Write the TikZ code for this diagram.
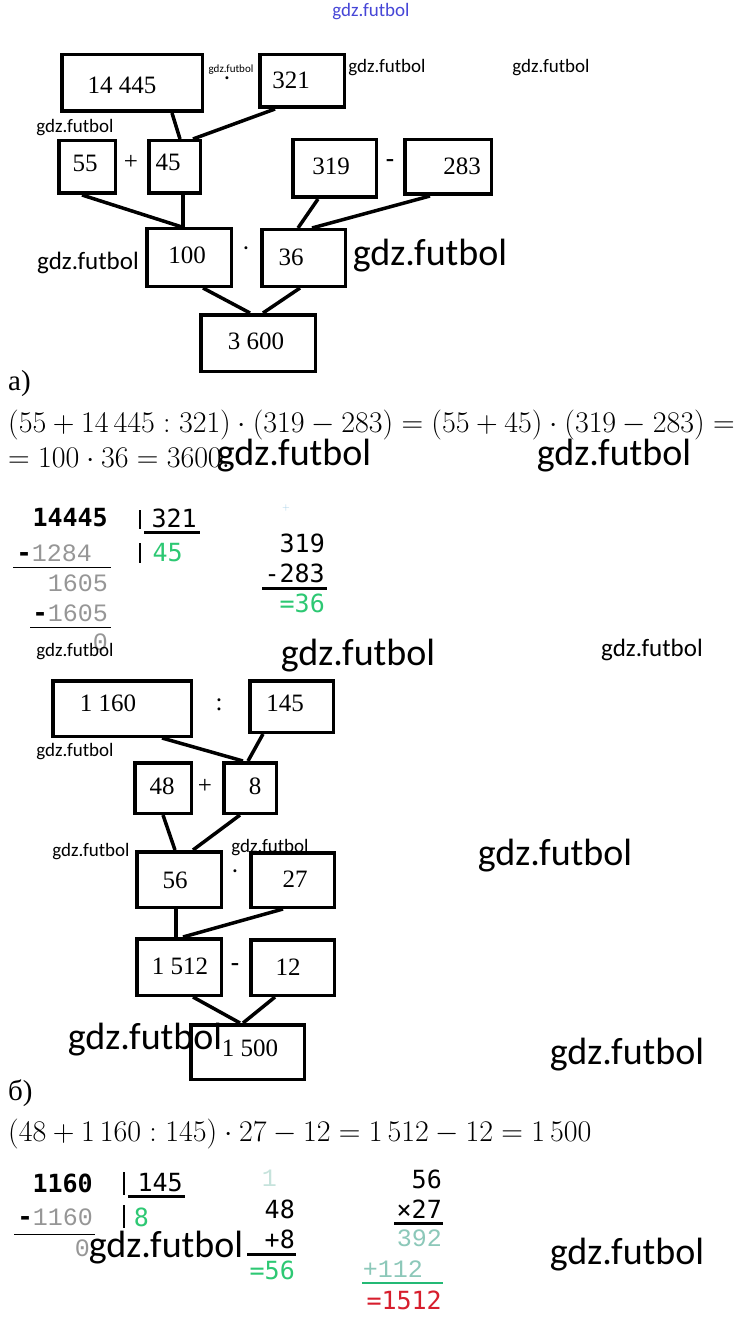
\RequirePackage{fix-cm}
\documentclass[tikz,border=0pt]{standalone}
\usepackage{fontspec}
\newfontfamily\wmf{Carlito}
\newfontfamily\serf{Liberation Serif}
\newfontfamily\monob{DejaVu Sans Mono}
\newfontfamily\monol{Liberation Mono}
\definecolor{grn}{RGB}{45,200,115}
\definecolor{redc}{RGB}{215,30,45}
\definecolor{gry}{RGB}{150,150,150}
\definecolor{tealc}{RGB}{140,200,185}
\definecolor{ltblue}{RGB}{160,205,230}
\definecolor{wmblue}{RGB}{70,70,215}
\tikzset{
  box/.style={draw=black, line width=3.5pt, rectangle, inner sep=0pt},
  conn/.style={line width=3.5pt},
  num/.style={font=\serf\fontsize{25}{30}\selectfont, inner sep=0pt},
  opr/.style={font=\serf\fontsize{25}{30}\selectfont, inner sep=0pt},
  wmS/.style={font=\wmf\fontsize{19}{23}\selectfont, inner sep=0pt},
  wmM/.style={font=\wmf\fontsize{25}{30}\selectfont, inner sep=0pt},
  wmL/.style={font=\wmf\fontsize{38}{45}\selectfont, inner sep=0pt},
  wmT/.style={font=\wmf\fontsize{11}{13}\selectfont, inner sep=0pt},
  eqn/.style={font=\fontsize{30}{36}\selectfont, inner sep=0pt, anchor=west},
  mb/.style={font=\monob\fontsize{25}{30}\selectfont, inner sep=0pt, anchor=east},
  mbb/.style={font=\monob\bfseries\fontsize{25}{30}\selectfont, inner sep=0pt, anchor=east},
  ml/.style={font=\monol\fontsize{25}{30}\selectfont, inner sep=0pt, anchor=east, text=gry},
  rule/.style={line width=3pt},
  thin/.style={line width=1pt},
  bar/.style={line width=2pt}
}
\begin{document}
\begin{tikzpicture}[x=1pt,y=-1pt]
\useasboundingbox[fill=white] (0,0) rectangle (742,1324);

% ---------- diagram a ----------
\node[box, minimum width=140.5pt, minimum height=56.5pt] (b14445) at (132,83) {};
\node[box, minimum width=84.5pt, minimum height=52.5pt] (b321) at (302,81) {};
\node[box, minimum width=56.5pt, minimum height=52.5pt] (b55) at (87,167) {};
\node[box, minimum width=51.5pt, minimum height=52.5pt] (b45) at (174.5,167) {};
\node[box, minimum width=83.5pt, minimum height=57.5pt] (b319) at (334.5,168.5) {};
\node[box, minimum width=86.5pt, minimum height=54.5pt] (b283) at (448,167) {};
\node[box, minimum width=84.5pt, minimum height=57.5pt] (b100) at (189,257.5) {};
\node[box, minimum width=83.5pt, minimum height=56.5pt] (b36) at (303.5,258) {};
\node[box, minimum width=114.5pt, minimum height=56.5pt] (b3600) at (258,343) {};

\node[num] (t14445) at (122,85) {14 445};
\node[num] (t321) at (291,80) {321};
\node[num] (t55) at (85,163) {55};
\node[num] (t45) at (168,162) {45};
\node[num] (t319) at (331,166) {319};
\node[num] (t283) at (462,166) {283};
\node[num] (t100) at (187,255) {100};
\node[num] (t36) at (291,257) {36};
\node[num] (t3600) at (256,341) {3 600};

\node[opr] (oa1) at (227,82) {·};
\node[opr] (oa2) at (131,162) {+};
\node[opr, font=\serf\bfseries\fontsize{25}{30}\selectfont] (oa3) at (390,163) {-};
\node[opr] (oa4) at (246,252) {·};

\draw[conn] ([xshift=40pt]b14445.south) -- ([xshift=5.5pt]b45.north);
\draw[conn] ([xshift=-27pt]b321.south) -- ([xshift=18.5pt]b45.north);
\draw[conn] ([xshift=-5pt]b55.south) -- ([xshift=-7pt]b100.north);
\draw[conn] ([xshift=8.5pt]b45.south) -- ([xshift=-6pt]b100.north);
\draw[conn] ([xshift=-16.5pt]b319.south) -- ([xshift=-5.5pt]b36.north);
\draw[conn] ([xshift=-18pt]b283.south) -- ([xshift=8.5pt]b36.north);
\draw[conn] ([xshift=14pt]b100.south) -- ([xshift=-8pt]b3600.north);
\draw[conn] ([xshift=-3.5pt]b36.south) -- ([xshift=5pt]b3600.north);

% ---------- equation a ----------
\node[eqn, font=\serf\fontsize{29}{34}\selectfont] (la) at (8,384) {а)};
\node[eqn] (eqa1) at (8,425) {$(55+14\,445:321)\cdot(319-283)=(55+45)\cdot(319-283)={}$};
\node[eqn] (eqa2) at (8,458) {$=100\cdot 36=3600.$};

% ---------- column work a ----------
\node[mbb] (c1) at (108,518) {14445};
\coordinate (v1a) at (140,510); \coordinate (v1b) at (140,529);
\coordinate (v2a) at (140,543); \coordinate (v2b) at (140,563);
\draw[bar] (v1a) -- (v1b);
\draw[bar] (v2a) -- (v2b);
\node[mb] (c2) at (197,518) {321};
\coordinate (u1a) at (144,532); \coordinate (u1b) at (200,532);
\draw[rule] (u1a) -- (u1b);
\node[mb, text=grn] (c3) at (183,553) {45};
\node[ml] (c4) at (92,553) {\monob\bfseries\textcolor{black}{-}\monol\mdseries 1284};
\coordinate (l1a) at (13,567); \coordinate (l1b) at (111,567);
\draw[thin] (l1a) -- (l1b);
\node[ml] (c5) at (108,583) {1605};
\node[ml] (c6) at (108,613) {\monob\bfseries\textcolor{black}{-}\monol\mdseries 1605};
\coordinate (l2a) at (30,627); \coordinate (l2b) at (111,627);
\draw[thin] (l2a) -- (l2b);
\node[ml] (c7) at (108,642) {0};

\node[font=\sffamily\fontsize{10}{12}\selectfont, text=ltblue, inner sep=0pt] (c8) at (286,508) {+};
\node[mb] (c9) at (325,543) {319};
\node[mb] (c10) at (325,573) {-283};
\coordinate (l3a) at (262,588); \coordinate (l3b) at (327,588);
\draw[rule] (l3a) -- (l3b);
\node[mb, text=grn] (c11) at (325,603) {=36};

% ---------- diagram b ----------
\node[box, minimum width=138.5pt, minimum height=55.5pt] (b1160) at (122,708.5) {};
\node[box, minimum width=83.5pt, minimum height=51.5pt] (b145) at (291.5,706.5) {};
\node[box, minimum width=56.5pt, minimum height=50.5pt] (b48) at (163,788) {};
\node[box, minimum width=52.5pt, minimum height=50.5pt] (b8) at (250,788) {};
\node[box, minimum width=84.5pt, minimum height=55.5pt] (b56) at (179,879.5) {};
\node[box, minimum width=83.5pt, minimum height=54.5pt] (b27) at (292.5,880) {};
\node[box, minimum width=84.5pt, minimum height=56.5pt] (b1512) at (179,967) {};
\node[box, minimum width=83.5pt, minimum height=55.5pt] (b12) at (292.5,967.5) {};
\node[box, minimum width=113.5pt, minimum height=54.5pt] (b1500) at (247.5,1052) {};

\node[num] (t1160) at (108,703) {1 160};
\node[num] (t145) at (285,703) {145};
\node[num] (t48) at (162,786) {48};
\node[num] (t8) at (255,786) {8};
\node[num] (t56) at (175,880) {56};
\node[num] (t27) at (295,879) {27};
\node[num] (t1512) at (180,966) {1 512};
\node[num] (t12) at (288,967) {12};
\node[num] (t1500) at (250,1048) {1 500};

\node[opr] (ob1) at (219,705) {:};
\node[opr] (ob2) at (205,786) {+};
\node[opr] (ob3) at (235,875) {·};
\node[opr, font=\serf\bfseries\fontsize{25}{30}\selectfont] (ob4) at (235,967) {-};

\draw[conn] ([xshift=40pt]b1160.south) -- ([xshift=-7pt]b8.north);
\draw[conn] ([xshift=-28.5pt]b145.south) -- ([xshift=-2pt]b8.north);
\draw[conn] ([xshift=0pt]b48.south) -- ([xshift=-4pt]b56.north);
\draw[conn] ([xshift=-10pt]b8.south) -- ([xshift=14pt]b56.north);
\draw[conn] ([xshift=-3pt]b56.south) -- ([xshift=-3pt]b1512.north);
\draw[conn] ([xshift=-9.5pt]b27.south) -- ([xshift=4pt]b1512.north);
\draw[conn] ([xshift=14pt]b1512.south) -- ([xshift=-7.5pt]b1500.north);
\draw[conn] ([xshift=-17.5pt]b12.south) -- ([xshift=-4.5pt]b1500.north);

% ---------- equation b ----------
\node[eqn, font=\serf\fontsize{29}{34}\selectfont] (lb) at (8,1093) {б)};
\node[eqn] (eqb) at (8,1134) {$(48+1\,160:145)\cdot 27-12=1\,512-12=1\,500$};

% ---------- column work b ----------
\node[mbb] (d1) at (93,1183) {1160};
\coordinate (v3a) at (124,1172); \coordinate (v3b) at (124,1195);
\coordinate (v4a) at (124,1205); \coordinate (v4b) at (124,1228);
\draw[bar] (v3a) -- (v3b);
\draw[bar] (v4a) -- (v4b);
\node[mb] (d2) at (183,1183) {145};
\coordinate (u2a) at (128,1196); \coordinate (u2b) at (185,1196);
\draw[rule] (u2a) -- (u2b);
\node[mb, text=grn] (d3) at (149,1217) {8};
\node[ml] (d4) at (93,1217) {\monob\bfseries\textcolor{black}{-}\monol\mdseries 1160};
\coordinate (l4a) at (14,1234); \coordinate (l4b) at (95,1234);
\draw[thin] (l4a) -- (l4b);
\node[ml] (d5) at (90,1248) {0};

\node[ml, text=tealc!50] (d6) at (277,1178) {1};
\node[mb] (d7) at (295,1209) {48};
\node[mb] (d8) at (295,1239) {+8};
\coordinate (l5a) at (247,1254); \coordinate (l5b) at (296,1254);
\draw[rule] (l5a) -- (l5b);
\node[mb, text=grn] (d9) at (295,1270) {=56};

\node[mb] (d10) at (442,1179) {56};
\node[mb] (d11) at (442,1209) {×27};
\coordinate (l6a) at (394,1223); \coordinate (l6b) at (443,1223);
\draw[rule] (l6a) -- (l6b);
\node[ml, text=tealc] (d12) at (442,1238) {392};
\node[ml, text=tealc] (d13) at (423,1269) {+112};
\coordinate (l7a) at (362,1283); \coordinate (l7b) at (443,1283);
\draw[bar, draw=grn!80!teal] (l7a) -- (l7b);
\node[mb, text=redc] (d14) at (442,1300) {=1512};

% ---------- watermarks ----------
\node[wmS, text=wmblue] (w0) at (371,12) {gdz.futbol};
\node[wmT] (w1) at (231,70) {gdz.futbol};
\node[wmS] (w2) at (387,68) {gdz.futbol};
\node[wmS] (w3) at (551,68) {gdz.futbol};
\node[wmS] (w4) at (75,128) {gdz.futbol};
\node[wmM] (w5) at (88,263) {gdz.futbol};
\node[wmL] (w6) at (430,256) {gdz.futbol};
\node[wmL] (w7) at (294,456) {gdz.futbol};
\node[wmL] (w8) at (614,456) {gdz.futbol};
\node[wmS] (w9) at (75,652) {gdz.futbol};
\node[wmL] (w10) at (358,656) {gdz.futbol};
\node[wmM] (w11) at (652,650) {gdz.futbol};
\node[wmS] (w12) at (75,752) {gdz.futbol};
\node[wmS] (w13) at (91,852) {gdz.futbol};
\node[wmS] (w14) at (270,848) {gdz.futbol};
\node[wmL] (w15) at (555,856) {gdz.futbol};
\node[wmL] (w16) at (145,1040) {gdz.futbol};
\node[wmL] (w17) at (627,1055) {gdz.futbol};
\node[wmL] (w18) at (166,1248) {gdz.futbol};
\node[wmL] (w19) at (627,1255) {gdz.futbol};
\end{tikzpicture}
\end{document}
